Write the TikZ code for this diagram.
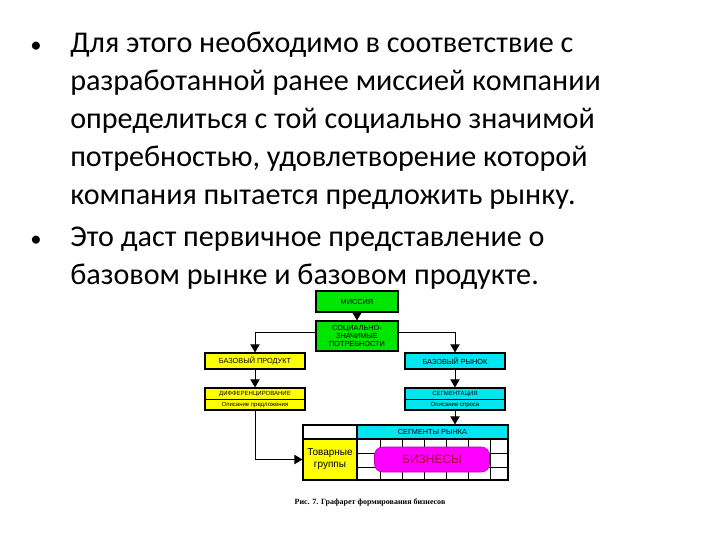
\documentclass[tikz,border=0pt]{standalone}
\usepackage{fontspec}
\setmainfont{Carlito}
\newfontfamily\arl{Liberation Sans}
\newfontfamily\tms{Liberation Serif}
\usetikzlibrary{arrows.meta}
\definecolor{gr}{RGB}{0,230,0}
\definecolor{yl}{RGB}{255,255,0}
\definecolor{cy}{RGB}{0,230,240}
\definecolor{mg}{RGB}{255,0,255}
\begin{document}
\begin{tikzpicture}[x=0.75pt,y=-0.75pt,
  bx/.style={draw=black,line width=0.9pt,inner sep=0pt,font=\arl\fontsize{5.5}{6}\selectfont,align=center},
  con/.style={line width=0.6pt,-{Triangle[length=6pt,width=7pt]}},
  txt/.style={anchor=base west,inner sep=0pt,font=\fontsize{22.6}{23}\selectfont}]
\useasboundingbox (0,0) rectangle (720,540);
% text
\node[txt,font=\fontsize{17}{17}\selectfont] (b1) at (30,52) {•};
\node[txt] (l1) at (70,52) {Для этого необходимо в соответствие с};
\node[txt] (l2) at (70,90) {разработанной ранее миссией компании};
\node[txt] (l3) at (70,128) {определиться с той социально значимой};
\node[txt] (l4) at (70,166) {потребностью, удовлетворение которой};
\node[txt] (l5) at (70,204) {компания пытается предложить рынку.};
\node[txt,font=\fontsize{17}{17}\selectfont] (b2) at (30,246) {•};
\node[txt] (l6) at (70,246) {Это даст первичное представление о};
\node[txt] (l7) at (70,284) {базовом рынке и базовом продукте.};
% boxes
\node[bx,fill=gr,minimum width=82pt*0.75,minimum height=21pt*0.75] (mis) at (357,301.5) {МИССИЯ};
\node[bx,fill=gr,minimum width=82pt*0.75,minimum height=30pt*0.75] (soc) at (357,336) {СОЦИАЛЬНО-\\ЗНАЧИМЫЕ\\ПОТРЕБНОСТИ};
\node[bx,fill=yl,minimum width=100pt*0.75,minimum height=16pt*0.75] (bp) at (255,361) {БАЗОВЫЙ ПРОДУКТ};
\node[bx,fill=cy,minimum width=100pt*0.75,minimum height=16pt*0.75] (br) at (455,361) {БАЗОВЫЙ РЫНОК};
\node[bx,fill=yl,minimum width=100pt*0.75,minimum height=22pt*0.75] (df) at (255,399) {};
\draw[line width=0.6pt] (df.west) -- (df.east);
\node[font=\arl\fontsize{4.5}{5}\selectfont,inner sep=0pt] (dft) at (255,394) {ДИФФЕРЕНЦИРОВАНИЕ};
\node[font=\arl\fontsize{4.5}{5}\selectfont,inner sep=0pt] (dfb) at (255,405) {Описание предложения};
\node[bx,fill=cy,minimum width=100pt*0.75,minimum height=22pt*0.75] (sg) at (455,399) {};
\draw[line width=0.6pt] (sg.west) -- (sg.east);
\node[font=\arl\fontsize{4.5}{5}\selectfont,inner sep=0pt] (sgt) at (455,394) {СЕГМЕНТАЦИЯ};
\node[font=\arl\fontsize{4.5}{5}\selectfont,inner sep=0pt] (sgb) at (455,405) {Описание спроса};
% table
\foreach \x in {380,402,424,446,468,490} \draw[line width=0.6pt] (\x,439) -- (\x,480);
\foreach \y in {453,467} \draw[line width=0.6pt] (357,\y) -- (508,\y);
\node[bx,fill=white,minimum width=54pt*0.75,minimum height=14pt*0.75] (tl) at (330,432) {};
\node[bx,fill=cy,minimum width=151pt*0.75,minimum height=14pt*0.75] (seg) at (432.5,432) {СЕГМЕНТЫ РЫНКА};
\node[bx,fill=yl,minimum width=54pt*0.75,minimum height=41pt*0.75,font=\arl\fontsize{7.5}{9}\selectfont] (tg) at (330,459.5) {Товарные\\группы};
\draw[line width=0.9pt] (303,425) rectangle (508,480);
\node[draw=mg!70!black,fill=mg,rounded corners=6pt,minimum width=115pt*0.75,minimum height=25pt*0.75,inner sep=0pt,font=\arl\fontsize{9}{10}\selectfont,text=purple!80!black] (biz) at (432,459.5) {БИЗНЕСЫ};
% connectors
\draw[con] (mis) -- (soc);
\draw[con] (soc.west|-0,332) -| (bp.north);
\draw[con] (soc.east|-0,332) -| (br.north);
\draw[con] (bp) -- (df);
\draw[con] (br) -- (sg);
\draw[con] (df.south) |- (tg.west);
\draw[con] (sg.south) -- (sg.south|-seg.north);
\node[font=\tms\bfseries\fontsize{6}{7}\selectfont] (cap) at (370,502) {Рис. 7. Графарет формирования бизнесов};
\end{tikzpicture}
\end{document}
